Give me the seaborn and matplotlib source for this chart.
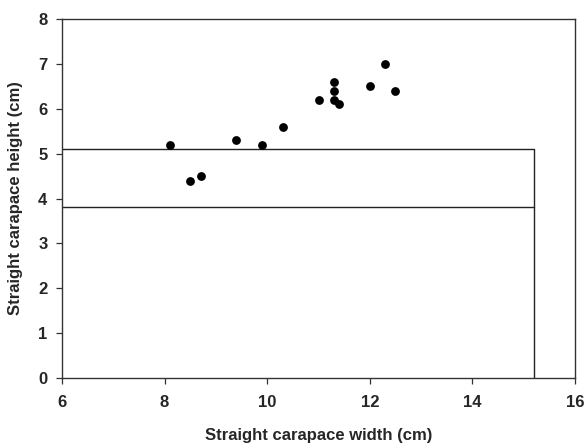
import matplotlib
matplotlib.use("Agg")
import matplotlib.pyplot as plt
import seaborn as sns
import pandas as pd

width_cm = [8.1, 8.5, 8.7, 9.4, 9.9, 10.3, 11.0, 11.3, 11.3, 11.3, 11.4, 12.0, 12.3, 12.5]
height_cm = [5.2, 4.4, 4.5, 5.3, 5.2, 5.6, 6.2, 6.6, 6.4, 6.2, 6.1, 6.5, 7.0, 6.4]
upper_limit = 5.1
lower_limit = 3.8
width_limit = 15.2
x_ticks = [6, 8, 10, 12, 14, 16]
y_ticks = [0, 1, 2, 3, 4, 5, 6, 7, 8]

sns.set_style("ticks")
plt.rcParams['font.family'] = ['Liberation Sans', 'DejaVu Sans']

df = pd.DataFrame({"w": width_cm, "h": height_cm})

fig = plt.figure(figsize=(5.87, 4.43), dpi=100)
ax = fig.add_axes([0.1056, 0.1467, 0.874, 0.8104])

sns.scatterplot(data=df, x="w", y="h", ax=ax, color="black", s=40,
                edgecolor="black", linewidth=0, zorder=3)

ax.plot([6, width_limit], [upper_limit, upper_limit], color="#222222", lw=1.0)
ax.plot([6, width_limit], [lower_limit, lower_limit], color="#222222", lw=1.0)
ax.plot([width_limit, width_limit], [0, upper_limit], color="#222222", lw=1.0)

ax.set_xlim(6, 16)
ax.set_ylim(0, 8)
ax.set_xticks(x_ticks)
ax.set_yticks(y_ticks)
ax.tick_params(direction="out", length=4.5, width=0.9, labelsize=12, pad=6,
               color="#333333")
ax.tick_params(axis="x", pad=8)
for lab in ax.get_xticklabels() + ax.get_yticklabels():
    lab.set_fontweight("bold")
for sp in ax.spines.values():
    sp.set_visible(True)
    sp.set_linewidth(1.0)
    sp.set_color("#333333")

ax.set_xlabel("Straight carapace width (cm)", fontsize=12, fontweight="bold", labelpad=13)
ax.set_ylabel("Straight carapace height (cm)", fontsize=12, fontweight="bold", labelpad=11)

fig.savefig("out.png", dpi=100)
